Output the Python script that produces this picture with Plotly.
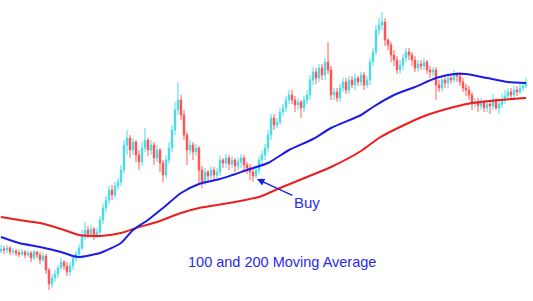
import plotly.graph_objects as go

# Candle data (price units)
opens = [49, 51, 50, 52, 48, 49, 47, 46, 48, 45,
         47, 42, 48, 45, 40, 44, 30, 16, 22, 26,
         32, 38, 34, 28, 34, 42, 46, 52, 64, 70,
         66, 71, 65, 68, 80, 92, 100, 110, 105, 114,
         118, 130, 155, 162, 150, 158, 145, 138, 152, 160,
         150, 155, 142, 150, 137, 125, 140, 152, 170, 190,
         200, 185, 165, 150, 155, 148, 152, 130, 118, 128,
         124, 130, 125, 128, 140, 137, 142, 136, 140, 134,
         138, 142, 135, 132, 128, 124, 130, 140, 145, 152,
         165, 182, 175, 178, 188, 192, 200, 205, 200, 195,
         198, 192, 200, 205, 220, 228, 222, 232, 225, 238,
         230, 205, 208, 202, 212, 218, 210, 220, 215, 222,
         218, 225, 215, 220, 238, 248, 270, 275, 278, 260,
         255, 245, 240, 230, 235, 242, 248, 245, 240, 232,
         236, 234, 238, 230, 228, 230, 215, 212, 220, 217,
         222, 220, 225, 224, 218, 212, 210, 205, 196, 198,
         194, 198, 192, 196, 194, 200, 192, 196, 200, 204,
         208, 205, 210, 208, 212, 214]
closes = [51, 50, 52, 48, 49, 47, 46, 48, 45, 47,
          42, 48, 45, 40, 44, 30, 16, 22, 26, 32,
          38, 34, 28, 34, 42, 46, 52, 64, 70, 66,
          71, 65, 68, 80, 92, 100, 110, 105, 114, 118,
          130, 155, 162, 150, 158, 145, 138, 152, 160, 150,
          155, 142, 150, 137, 125, 140, 152, 170, 190, 200,
          185, 165, 150, 155, 148, 152, 130, 118, 128, 124,
          130, 125, 128, 140, 137, 142, 136, 140, 134, 138,
          142, 135, 132, 128, 124, 130, 140, 145, 152, 165,
          182, 175, 178, 188, 192, 200, 205, 200, 195, 198,
          192, 200, 205, 220, 228, 222, 232, 225, 238, 230,
          205, 208, 202, 212, 218, 210, 220, 215, 222, 218,
          225, 215, 220, 238, 248, 270, 275, 278, 260, 255,
          245, 240, 230, 235, 242, 248, 245, 240, 232, 236,
          234, 238, 230, 228, 230, 215, 212, 220, 217, 222,
          220, 225, 224, 218, 212, 210, 205, 196, 198, 194,
          198, 192, 196, 194, 200, 192, 196, 200, 204, 208,
          205, 210, 208, 212, 214, 218]
highs = [55, 54, 55, 54, 52, 51, 50, 51, 50, 50,
         49, 50, 49, 48, 47, 46, 32, 26, 30, 35,
         42, 40, 38, 38, 45, 49, 56, 70, 78, 74,
         75, 73, 72, 84, 96, 104, 114, 115, 118, 122,
         135, 160, 170, 165, 162, 160, 150, 158, 172, 162,
         160, 158, 155, 152, 140, 145, 158, 175, 198, 218,
         205, 190, 168, 160, 158, 156, 154, 134, 132, 130,
         134, 133, 132, 144, 142, 146, 145, 144, 142, 142,
         146, 145, 138, 136, 132, 134, 144, 150, 156, 170,
         186, 186, 182, 192, 196, 204, 210, 210, 204, 202,
         200, 204, 210, 225, 233, 232, 236, 236, 242, 258,
         234, 212, 212, 216, 222, 222, 224, 224, 226, 224,
         228, 228, 224, 242, 252, 275, 282, 288, 282, 262,
         258, 250, 244, 240, 246, 252, 252, 248, 244, 240,
         240, 242, 240, 234, 233, 233, 220, 224, 224, 226,
         226, 230, 228, 228, 222, 216, 214, 208, 202, 202,
         202, 200, 200, 200, 206, 202, 200, 206, 210, 212,
         212, 214, 214, 216, 218, 222]
lows = [47, 46, 47, 45, 45, 44, 43, 44, 42, 43,
        38, 40, 42, 36, 38, 26, 10, 12, 18, 22,
        30, 30, 24, 24, 30, 38, 44, 50, 60, 62,
        62, 60, 62, 64, 76, 88, 96, 100, 102, 110,
        114, 126, 145, 142, 145, 138, 130, 134, 148, 144,
        145, 135, 138, 128, 118, 122, 136, 148, 165, 185,
        180, 160, 135, 145, 140, 144, 115, 112, 115, 118,
        120, 120, 122, 124, 132, 132, 130, 132, 128, 130,
        132, 128, 126, 120, 118, 122, 126, 136, 140, 148,
        160, 170, 172, 175, 184, 188, 196, 196, 188, 190,
        182, 188, 196, 200, 215, 216, 218, 220, 220, 226,
        200, 200, 198, 198, 208, 206, 206, 212, 210, 214,
        214, 210, 212, 215, 234, 245, 265, 270, 254, 250,
        238, 234, 226, 226, 230, 238, 240, 234, 228, 228,
        230, 230, 226, 222, 224, 200, 208, 208, 212, 212,
        216, 218, 218, 214, 208, 204, 200, 190, 192, 188,
        190, 188, 188, 186, 190, 190, 186, 192, 196, 200,
        202, 202, 204, 206, 208, 212]
bars = list(range(len(closes)))

# Moving averages (read at sample bars)
ma100_x = [0, 6, 13, 20, 24, 26, 33, 40, 44, 49, 54, 60, 66, 73, 82, 89, 96,
           104, 110, 120, 124, 131, 138, 145, 151, 155, 162, 169, 175]
ma100_y = [63, 57, 53, 48, 44, 43, 47, 57, 70, 80, 92, 107, 116, 121, 130, 137,
           150, 161, 172, 185, 193, 205, 213, 222, 226, 226, 222, 218, 217]
ma200_x = [0, 6, 13, 20, 26, 33, 40, 45, 52, 60, 66, 76, 86, 93, 102, 110, 120,
           126, 133, 142, 151, 157, 166, 175]
ma200_y = [83, 80, 77, 71, 65, 64, 67, 72, 78, 87, 92, 97, 103, 112, 123, 133,
           149, 162, 173, 185, 193, 197, 200, 202]

fig = go.Figure()
fig.add_trace(go.Candlestick(
    x=bars, open=opens, high=highs, low=lows, close=closes,
    increasing=dict(line=dict(color="#4fdde8", width=1), fillcolor="#12bcd0"),
    decreasing=dict(line=dict(color="#ff5a5a", width=1), fillcolor="#ff0000"),
    whiskerwidth=0, showlegend=False, hoverinfo="skip"))
fig.add_trace(go.Scatter(x=ma200_x, y=ma200_y, mode="lines", line_shape="spline",
                         line=dict(color="#ee1c1c", width=2, smoothing=0.6),
                         showlegend=False))
fig.add_trace(go.Scatter(x=ma100_x, y=ma100_y, mode="lines", line_shape="spline",
                         line=dict(color="#1c1ce8", width=2, smoothing=0.6),
                         showlegend=False))

fig.add_annotation(x=85.3, y=121, xref="x", yref="y", text="Buy",
                   showarrow=True, ax=50, ay=23, arrowhead=2, arrowsize=1,
                   arrowwidth=1.5, arrowcolor="#2020e0",
                   font=dict(family="Liberation Sans, Arial", size=15, color="#2a2af0"))
fig.add_annotation(x=0.529, y=0.096, xref="paper", yref="paper",
                   text="100 and 200 Moving Average", showarrow=False,
                   font=dict(family="Liberation Sans, Arial", size=14.5, color="#2a2af0"))

fig.update_layout(
    width=533, height=301, margin=dict(l=0, r=0, t=0, b=0),
    paper_bgcolor="white", plot_bgcolor="white",
    xaxis=dict(range=[-0.333, 177.333], visible=False, rangeslider=dict(visible=False)),
    yaxis=dict(range=[-1, 300], visible=False),
)
fig.write_html("out.html")
